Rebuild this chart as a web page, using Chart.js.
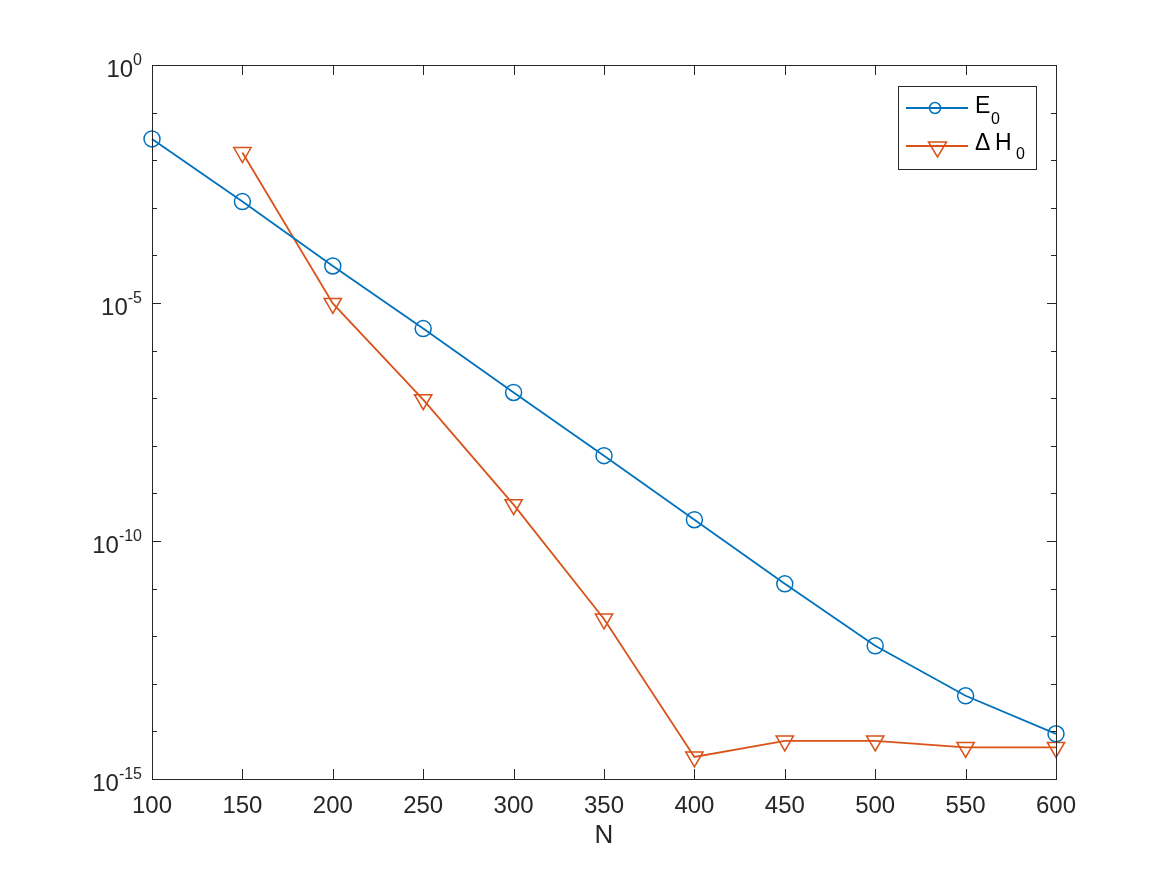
<!DOCTYPE html>
<html>
<head>
<meta charset="utf-8">
<script src="https://cdn.jsdelivr.net/npm/chart.js@4/dist/chart.umd.min.js"></script>
<style>
  html, body { margin: 0; padding: 0; background: #fff; }
  #wrap { width: 1167px; height: 875px; }
</style>
</head>
<body>
<div id="wrap"><canvas id="chart" width="1167" height="875"></canvas></div>
<script>
// valores
const N = [100, 150, 200, 250, 300, 350, 400, 450, 500, 550, 600];
const E0 = [2.8e-2, 1.35e-3, 6.0e-5, 2.9e-6, 1.32e-7, 6.2e-9, 2.8e-10, 1.26e-11, 6.3e-13, 5.6e-14, 8.9e-15];
const dH0 = [null, 1.45e-2, 9.8e-6, 9.3e-8, 5.8e-10, 2.3e-12, 2.9e-15, 6.3e-15, 6.3e-15, 4.6e-15, 4.6e-15];
const yExpLabels = [0, -5, -10, -15];

const BLUE = '#0072BD';
const ORANGE = '#D95319';
const AXIS = '#262626';
const FONT = '"Liberation Sans", Arial, Helvetica, sans-serif';

const toXY = arr => N.map((n, i) => ({ x: n, y: arr[i] }));

// marco, ticks hacia dentro, etiquetas 10^k y leyenda con subíndices
const matlabAxes = {
    id: 'matlabAxes',
    afterDraw(chart) {
        const ctx = chart.ctx;
        const a = chart.chartArea;
        const xs = chart.scales.x;
        const ys = chart.scales.y;
        ctx.save();
        ctx.strokeStyle = AXIS;
        ctx.lineWidth = 1;
        ctx.strokeRect(a.left + 0.5, a.top + 0.5, a.right - a.left, a.bottom - a.top);

        ctx.beginPath();
        N.forEach(n => {
            const px = Math.round(xs.getPixelForValue(n)) + 0.5;
            ctx.moveTo(px, a.bottom); ctx.lineTo(px, a.bottom - 10);
            ctx.moveTo(px, a.top); ctx.lineTo(px, a.top + 10);
        });
        for (let k = 0; k >= -15; k--) {
            const py = Math.round(ys.getPixelForValue(Math.pow(10, k))) + 0.5;
            const len = (k % 5 === 0) ? 9 : 5;
            ctx.moveTo(a.left, py); ctx.lineTo(a.left + len, py);
            ctx.moveTo(a.right, py); ctx.lineTo(a.right - len, py);
        }
        ctx.stroke();

        // etiquetas eje y
        ctx.fillStyle = AXIS;
        ctx.textBaseline = 'alphabetic';
        yExpLabels.forEach(k => {
            const py = ys.getPixelForValue(Math.pow(10, k));
            const exp = String(k);
            ctx.font = '16px ' + FONT;
            const we = ctx.measureText(exp).width;
            ctx.textAlign = 'left';
            const right = a.left - 10;
            ctx.fillText(exp, right - we, py);
            ctx.font = '24px ' + FONT;
            const wb = ctx.measureText('10').width;
            ctx.fillText('10', right - we - wb, py + 12);
        });

        // leyenda
        const lx = 898, ly = 86, lw = 138, lh = 83;
        ctx.fillStyle = '#fff';
        ctx.fillRect(lx, ly, lw, lh);
        ctx.strokeStyle = AXIS;
        ctx.lineWidth = 1;
        ctx.strokeRect(lx + 0.5, ly + 0.5, lw, lh);

        // fila E0
        ctx.strokeStyle = BLUE;
        ctx.lineWidth = 1.8;
        ctx.beginPath();
        ctx.moveTo(906, 108); ctx.lineTo(968, 108);
        ctx.stroke();
        ctx.lineWidth = 1.5;
        ctx.beginPath();
        ctx.arc(935, 108, 5.5, 0, Math.PI * 2);
        ctx.stroke();

        // fila ΔH0
        ctx.strokeStyle = ORANGE;
        ctx.lineWidth = 1.8;
        ctx.beginPath();
        ctx.moveTo(906, 146); ctx.lineTo(968, 146);
        ctx.stroke();
        ctx.lineWidth = 1.5;
        ctx.beginPath();
        ctx.moveTo(928.5, 142); ctx.lineTo(946.5, 142); ctx.lineTo(937.5, 157); ctx.closePath();
        ctx.stroke();

        ctx.fillStyle = '#000';
        ctx.textAlign = 'left';
        ctx.font = '23px ' + FONT;
        ctx.fillText('E', 975, 113);
        ctx.fillText('\u0394', 975, 150);
        ctx.fillText('H', 995, 150);
        ctx.font = '16px ' + FONT;
        ctx.fillText('0', 991, 124);
        ctx.fillText('0', 1016, 159);
        ctx.restore();
    }
};

new Chart(document.getElementById('chart').getContext('2d'), {
    type: 'line',
    data: {
        datasets: [
            {
                label: 'E0',
                data: toXY(E0),
                borderColor: BLUE,
                backgroundColor: 'rgba(0,0,0,0)',
                borderWidth: 1.8,
                clip: false,
                pointStyle: 'circle',
                pointRadius: 8,
                pointBorderWidth: 1.5,
                pointBackgroundColor: 'rgba(0,0,0,0)',
                pointBorderColor: BLUE,
                tension: 0
            },
            {
                label: '\u0394 H0',
                data: toXY(dH0),
                borderColor: ORANGE,
                backgroundColor: 'rgba(0,0,0,0)',
                borderWidth: 1.8,
                clip: false,
                pointStyle: 'triangle',
                pointRotation: 180,
                pointRadius: 10,
                pointBorderWidth: 1.5,
                pointBackgroundColor: 'rgba(0,0,0,0)',
                pointBorderColor: ORANGE,
                tension: 0
            }
        ]
    },
    options: {
        responsive: false,
        animation: false,
        layout: { padding: { left: 0, top: 65, right: 111, bottom: 0 } },
        plugins: {
            legend: { display: false },
            tooltip: { enabled: false }
        },
        scales: {
            x: {
                type: 'linear',
                min: 100,
                max: 600,
                grid: { display: false, drawTicks: false },
                border: { display: false },
                ticks: {
                    stepSize: 50,
                    padding: 13,
                    color: AXIS,
                    font: { family: FONT, size: 24 }
                },
                title: {
                    display: true,
                    text: 'N',
                    color: AXIS,
                    font: { family: FONT, size: 26 },
                    padding: { top: 4, bottom: 24 }
                },
                afterFit(scale) { scale.height = 96; }
            },
            y: {
                type: 'logarithmic',
                min: 1e-15,
                max: 1,
                grid: { display: false, drawTicks: false },
                border: { display: false },
                ticks: { display: false },
                afterFit(scale) { scale.width = 152; }
            }
        }
    },
    plugins: [matlabAxes]
});
</script>
</body>
</html>
